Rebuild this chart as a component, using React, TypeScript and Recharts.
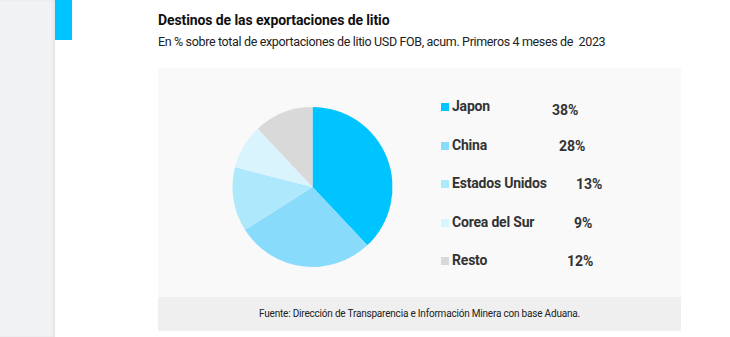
import { PieChart, Pie, Cell, Legend } from "recharts";

const destinos = ["Japon", "China", "Estados Unidos", "Corea del Sur", "Resto"];
const participacion = [38, 28, 13, 9, 12];
const colores = ["#00c4ff", "#89dbfc", "#aee8fd", "#daf4fe", "#d9d9d9"];

// where each % label sits (the source places them by hand)
const valueLeft = [394, 401, 418, 416, 409];

const data = destinos.map((name, i) => ({ name, value: participacion[i] }));

const font = "Roboto, 'Noto Sans', sans-serif";

function LegendList() {
  return (
    <div style={{ position: "relative", width: 300, height: 200, fontFamily: font }}>
      {data.map((d, i) => (
        <div key={d.name}>
          <div
            style={{
              position: "absolute",
              left: 0,
              top: i * 38.5 - 4,
              width: 8,
              height: 8,
              background: colores[i],
            }}
          />
          <div
            style={{
              position: "absolute",
              left: 11,
              top: i * 38.5 - 10,
              fontSize: 14,
              fontWeight: 700,
              color: "#333333",
              lineHeight: "18px",
              letterSpacing: -0.2,
              whiteSpace: "nowrap",
            }}
          >
            {d.name}
          </div>
          <div
            style={{
              position: "absolute",
              left: valueLeft[i] - 283,
              top: i * 38.5 - 9 + (i === 0 ? 3 : 0),
              fontSize: 14,
              fontWeight: 700,
              color: "#333333",
              lineHeight: "18px",
            }}
          >
            {d.value}%
          </div>
        </div>
      ))}
    </div>
  );
}

export default function App() {
  return (
    <div
      style={{
        position: "absolute",
        left: 0,
        top: 0,
        width: 730,
        height: 337,
        background: "#ffffff",
        overflow: "hidden",
      }}
    >
      <div style={{ position: "absolute", left: 0, top: 0, width: 55, height: 337, background: "#f1f2f4", boxShadow: "inset -2px 0 3px rgba(0,0,0,0.06)" }} />
      <div style={{ position: "absolute", left: 55, top: 0, width: 17, height: 40, background: "#00c4ff" }} />
      <div
        style={{
          position: "absolute",
          left: 158,
          top: 12,
          fontFamily: font,
          fontSize: 14,
          fontWeight: 700,
          color: "#111111",
          letterSpacing: -0.1,
          whiteSpace: "nowrap",
        }}
      >
        Destinos de las exportaciones de litio
      </div>
      <div
        style={{
          position: "absolute",
          left: 158,
          top: 34,
          fontFamily: font,
          fontSize: 12.5,
          color: "#222222",
          letterSpacing: -0.35,
          whiteSpace: "pre",
        }}
      >
        En % sobre total de exportaciones de litio USD FOB, acum. Primeros 4 meses de  2023
      </div>
      <div style={{ position: "absolute", left: 158, top: 68, width: 523, height: 229, background: "#f9f9f9" }}>
        <PieChart width={523} height={229} margin={{ top: 0, right: 0, bottom: 0, left: 0 }}>
          <Pie
            data={data}
            dataKey="value"
            nameKey="name"
            cx={154.5}
            cy={119}
            outerRadius={80}
            startAngle={90}
            endAngle={-270}
            stroke="none"
            isAnimationActive={false}
          >
            {data.map((d, i) => (
              <Cell key={d.name} fill={colores[i]} />
            ))}
          </Pie>
          <Legend
            content={() => <LegendList />}
            wrapperStyle={{ position: "absolute", left: 283, top: 39, width: 300, height: 200 }}
          />
        </PieChart>
      </div>
      <div
        style={{
          position: "absolute",
          left: 158,
          top: 297,
          width: 523,
          height: 34,
          background: "#efefef",
          fontFamily: font,
          fontSize: 10,
          color: "#222222",
          letterSpacing: -0.2,
          textAlign: "center",
          lineHeight: "34px",
        }}
      >
        Fuente: Dirección de Transparencia e Información Minera con base Aduana.
      </div>
    </div>
  );
}
